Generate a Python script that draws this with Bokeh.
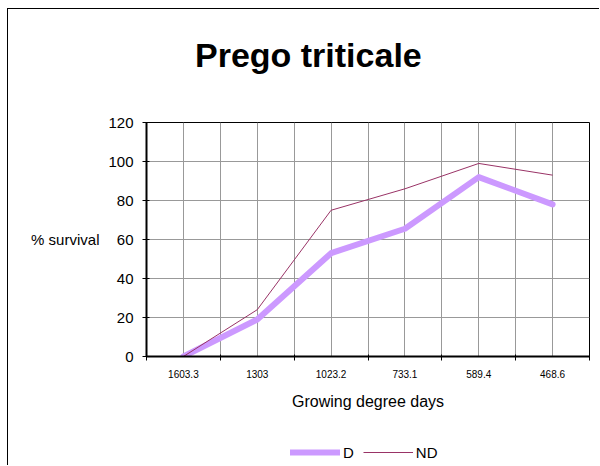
from bokeh.plotting import figure
from bokeh.layouts import column
from bokeh.models import FixedTicker, Legend, LegendItem, Div
from bokeh.embed import file_html
from bokeh.resources import INLINE

title_text = "Prego triticale"
categories = ["1603.3", "1303", "1023.2", "733.1", "589.4", "468.6"]
d_values = [0, 19, 53, 65.5, 92, 78]
nd_values = [0, 24, 75, 86, 99, 93]
y_ticks = [0, 20, 40, 60, 80, 100, 120]
series_names = ["D", "ND"]
series_values = [d_values, nd_values]
series_colors = ["#CC99FF", "#993366"]
series_widths = [6, 1]
series_caps = ["round", "butt"]

FONT = "Liberation Sans"
x_centers = [i + 0.5 for i in range(len(categories))]
x_bounds = list(range(len(categories) + 1))

# title as a block above the chart
title = Div(text=title_text, width=300, height=40)
title.margin = (26, 0, 0, 187)
title.styles = {"font-family": FONT, "font-size": "34px", "font-weight": "bold",
                "line-height": "40px", "color": "black", "white-space": "nowrap"}

p = figure(width=592, height=354, x_range=(0, len(categories)), y_range=(0, 120),
           output_backend="svg", toolbar_location=None, title=None,
           min_border_left=138, min_border_right=11, min_border_top=47, min_border_bottom=73)
p.background_fill_color = "white"
p.border_fill_color = "white"
p.outline_line_color = "black"
p.outline_line_width = 1

# grids
p.xgrid.grid_line_color = "#999999"
p.xgrid.minor_grid_line_color = "#999999"
p.ygrid.grid_line_color = "#999999"

# lines
for vals, col, w, cap in zip(series_values, series_colors, series_widths, series_caps):
    p.line(x_centers, vals, line_color=col, line_width=w, line_cap=cap, line_join="round")

# x axis
xa = p.xaxis[0]
xa.ticker = FixedTicker(ticks=x_centers, minor_ticks=x_bounds)
xa.major_label_overrides = {c: lab for c, lab in zip(x_centers, categories)}
xa.major_tick_in = 0
xa.major_tick_out = 0
xa.minor_tick_in = 2
xa.minor_tick_out = 4
xa.minor_tick_line_color = "black"
xa.minor_tick_line_width = 1
xa.axis_line_color = "black"
xa.axis_line_width = 2
xa.major_label_text_font = FONT
xa.major_label_text_font_size = "10px"
xa.major_label_text_color = "black"
xa.major_label_standoff = 9
xa.axis_label = "Growing degree days"
xa.axis_label_text_font = FONT
xa.axis_label_text_font_size = "16px"
xa.axis_label_text_font_style = "normal"
xa.axis_label_text_color = "black"
xa.axis_label_standoff = 12

# y axis
ya = p.yaxis[0]
ya.ticker = FixedTicker(ticks=y_ticks)
ya.major_tick_in = 3
ya.major_tick_out = 4
ya.major_tick_line_color = "black"
ya.minor_tick_line_color = None
ya.axis_line_color = "black"
ya.axis_line_width = 2
ya.major_label_text_font = FONT
ya.major_label_text_font_size = "15px"
ya.major_label_text_color = "black"
ya.major_label_standoff = 9
ya.axis_label = "% survival"
ya.axis_label_orientation = "horizontal"
ya.axis_label_text_font = FONT
ya.axis_label_text_font_size = "15px"
ya.axis_label_text_font_style = "normal"
ya.axis_label_text_color = "black"
ya.axis_label_standoff = 6

# legend strip below the chart (series drawn out of view, only legend shows)
p2 = figure(width=592, height=37, x_range=(0, len(categories)), y_range=(1000, 1001),
            x_axis_type=None, y_axis_type=None, output_backend="svg",
            toolbar_location=None, min_border=0, title=None)
p2.outline_line_color = None
p2.background_fill_color = "white"
p2.border_fill_color = "white"
p2.grid.visible = False
items = []
for name, vals, col, w, cap in zip(series_names, series_values, series_colors, series_widths, series_caps):
    r = p2.line(x_centers, vals, line_color=col, line_width=w, line_cap=cap)
    items.append(LegendItem(label=name, renderers=[r]))
legend = Legend(items=items, orientation="horizontal", location=(144, 4))
legend.label_text_font = FONT
legend.label_text_font_size = "15px"
legend.label_text_color = "black"
legend.glyph_width = 50
legend.label_standoff = 3
legend.label_width = 0
legend.spacing = 9
legend.border_line_color = None
legend.background_fill_alpha = 0
legend.margin = 0
legend.padding = 4
p2.add_layout(legend, "center")

layout = column(title, p, p2, spacing=0)
layout.margin = (9, 0, 0, 8)
layout.styles = {"box-shadow": "-1px -1px 0 0 black"}

open("out.html", "w").write(file_html(layout, INLINE))
